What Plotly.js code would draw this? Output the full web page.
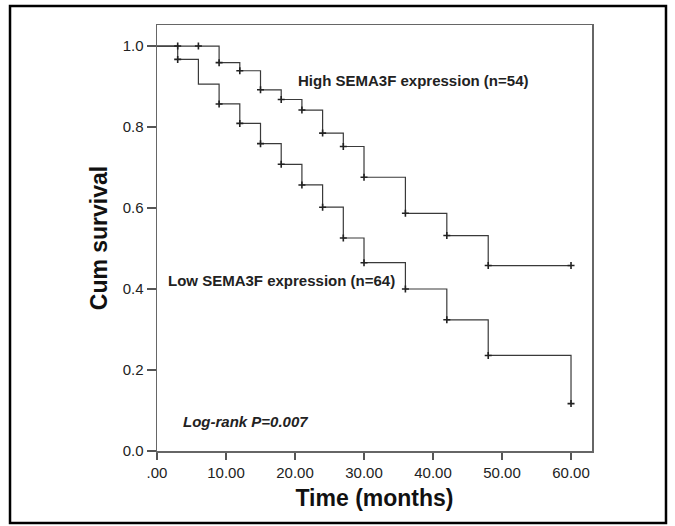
<!DOCTYPE html>
<html>
<head>
<meta charset="utf-8">
<script src="https://cdn.plot.ly/plotly-3.0.1.min.js"></script>
<style>
  html, body { margin: 0; padding: 0; background: #fff; }
  #chart { width: 675px; height: 526px; }
</style>
</head>
<body>
<div id="chart"></div>
<script>
// ---- data ----
const highTimes  = [0, 3, 6, 9, 12, 15, 18, 21, 24, 27, 30, 36, 42, 48, 60];
const highSurv   = [1, 1, 1, 0.959, 0.939, 0.892, 0.868, 0.842, 0.785, 0.752, 0.676, 0.587, 0.532, 0.458, 0.458];
const highMarked = [0, 1, 1, 1, 1, 1, 1, 1, 1, 1, 1, 1, 1, 1, 1];

const lowTimes  = [0, 3, 6, 9, 12, 15, 18, 21, 24, 27, 30, 36, 42, 48, 60];
const lowSurv   = [1, 0.967, 0.906, 0.857, 0.809, 0.759, 0.708, 0.657, 0.602, 0.526, 0.465, 0.400, 0.324, 0.236, 0.117];
const lowMarked = [0, 1, 0, 1, 1, 1, 1, 1, 1, 1, 1, 1, 1, 1, 1];

const xTickVals = [0, 10, 20, 30, 40, 50, 60];
const xTickText = ['.00', '10.00', '20.00', '30.00', '40.00', '50.00', '60.00'];
const yTickVals = [0, 0.2, 0.4, 0.6, 0.8, 1.0];
const yTickText = ['0.0', '0.2', '0.4', '0.6', '0.8', '1.0'];

const highLabel = 'High SEMA3F expression (n=54)';
const lowLabel  = 'Low SEMA3F expression (n=64)';
const pLabel    = 'Log-rank P=0.007';

// ---- build traces ----
function pick(arr, mask) { return arr.filter((_, i) => mask[i]); }

const lineStyle = { color: '#3a3a3a', width: 1.2, shape: 'hv' };
const markStyle = { symbol: 'cross-thin', size: 5, color: '#222', line: { color: '#222', width: 1.6 } };

const traces = [
  { x: highTimes, y: highSurv, type: 'scatter', mode: 'lines', line: lineStyle, hoverinfo: 'skip', showlegend: false },
  { x: lowTimes,  y: lowSurv,  type: 'scatter', mode: 'lines', line: lineStyle, hoverinfo: 'skip', showlegend: false },
  { x: pick(highTimes, highMarked), y: pick(highSurv, highMarked), type: 'scatter', mode: 'markers', marker: markStyle, showlegend: false },
  { x: pick(lowTimes, lowMarked),   y: pick(lowSurv, lowMarked),   type: 'scatter', mode: 'markers', marker: markStyle, showlegend: false }
];

const FONT = 'Liberation Sans, Arial, sans-serif';

const layout = {
  width: 675,
  height: 526,
  margin: { l: 157, r: 83, t: 25, b: 75, pad: 0 },
  paper_bgcolor: '#ffffff',
  plot_bgcolor: '#ffffff',
  showlegend: false,
  font: { family: FONT, color: '#2b2b2b', size: 15 },
  xaxis: {
    range: [0, 63.04],
    tickvals: xTickVals,
    ticktext: xTickText,
    ticks: 'outside',
    ticklen: 7,
    tickwidth: 1.5,
    tickcolor: '#555',
    showline: true,
    mirror: true,
    linecolor: '#666',
    linewidth: 1.5,
    showgrid: false,
    zeroline: false,
    tickfont: { family: FONT, size: 15, color: '#222' },
    title: { text: 'Time (months)', font: { family: FONT, size: 23, color: '#111', weight: 'bold' }, standoff: 10 }
  },
  yaxis: {
    range: [0, 1.052],
    tickvals: yTickVals,
    ticktext: yTickText,
    ticks: 'outside',
    ticklen: 9,
    tickwidth: 1.5,
    tickcolor: '#555',
    showline: true,
    mirror: true,
    linecolor: '#666',
    linewidth: 1.5,
    showgrid: false,
    zeroline: false,
    tickfont: { family: FONT, size: 15, color: '#222' },
    title: { text: 'Cum survival', font: { family: FONT, size: 23, color: '#111', weight: 'bold' }, standoff: 8 }
  },
  annotations: [
    { x: 20.25, y: 0.916, xref: 'x', yref: 'y', text: '<b>' + highLabel + '</b>', showarrow: false,
      xanchor: 'left', yanchor: 'middle', borderpad: 0, font: { family: FONT, size: 15, color: '#222' } },
    { x: 1.49, y: 0.42, xref: 'x', yref: 'y', text: '<b>' + lowLabel + '</b>', showarrow: false,
      xanchor: 'left', yanchor: 'middle', borderpad: 0, font: { family: FONT, size: 15, color: '#222' } },
    { x: 3.58, y: 0.072, xref: 'x', yref: 'y', text: '<b><i>' + pLabel + '</i></b>', showarrow: false,
      xanchor: 'left', yanchor: 'middle', borderpad: 0, font: { family: FONT, size: 15, color: '#222' } }
  ],
  shapes: [
    { type: 'rect', xref: 'paper', yref: 'paper', x0: -0.3379, x1: 1.1701, y0: -0.169, y1: 1.0446,
      line: { color: '#000', width: 2.5 }, fillcolor: 'rgba(0,0,0,0)', layer: 'above' }
  ]
};

Plotly.newPlot('chart', traces, layout, { staticPlot: true, displayModeBar: false });
</script>
</body>
</html>
